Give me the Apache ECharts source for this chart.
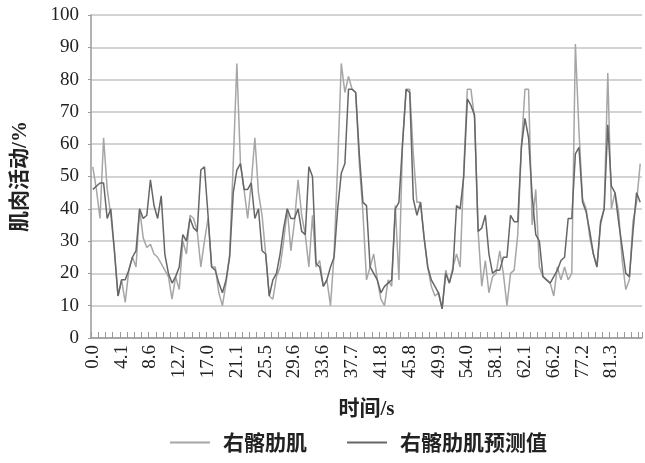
<!DOCTYPE html>
<html>
<head>
<meta charset="utf-8">
<script src="https://cdn.jsdelivr.net/npm/echarts@6/dist/echarts.min.js"></script>
<style>
  html, body { margin: 0; padding: 0; background: #fff; }
  #chart { width: 645px; height: 463px; }
</style>
</head>
<body>
<div id="chart"></div>
<script>
// tick labels (s), one every 8 samples
var timeLabels = ['0.0', '4.1', '8.6', '12.7', '17.0', '21.1', '25.5', '29.6', '33.6', '37.7',
  '41.8', '45.8', '49.9', '54.0', '58.1', '62.1', '66.2', '77.2', '81.3'];
var labelStep = 8;

// 右髂肋肌 (measured)
var measured = [
  53, 46, 37, 62, 46, 38, 27, 13, 18, 11,
  21, 25, 22, 40, 31, 28, 29, 26, 25, 23,
  21, 19, 12, 19, 15, 30, 26, 38, 37, 33,
  22, 30, 37, 22, 22, 14, 10, 17, 26, 54,
  85, 54, 46, 37, 48, 62, 45, 38, 26, 13,
  12, 19, 22, 30, 40, 27, 36, 49, 38, 32,
  22, 38, 22, 24, 16, 18, 10, 26, 54, 85,
  76, 81, 77, 76, 54, 39, 18, 22, 26, 18,
  12, 10, 18, 16, 41, 18, 60, 77, 77, 57,
  42, 42, 31, 22, 16, 13, 14, 9, 21, 17,
  22, 26, 22, 52, 77, 77, 68, 33, 16, 24,
  14, 19, 20, 27, 20, 10, 20, 21, 32, 59,
  77, 77, 35, 46, 22, 19, 18, 17, 13, 22,
  18, 22, 18, 20, 91, 64, 43, 40, 31, 26,
  22, 35, 40, 82, 40, 45, 39, 24, 15, 18,
  36, 42, 54
];

// 右髂肋肌预测值 (predicted)
var predicted = [
  46, 47, 48, 48, 37, 40, 27, 13, 18, 18,
  21, 25, 27, 40, 37, 38, 49, 41, 37, 44,
  26, 20, 17, 19, 22, 32, 30, 37, 34, 33,
  52, 53, 38, 22, 21, 17, 14, 18, 25, 45,
  52, 54, 46, 46, 48, 37, 40, 27, 26, 13,
  18, 20, 26, 34, 40, 37, 37, 40, 33, 32,
  53, 50, 23, 22, 16, 18, 22, 25, 40, 51,
  54, 77, 77, 76, 57, 42, 41, 22, 20, 18,
  14, 16, 17, 18, 40, 42, 60, 77, 76, 43,
  38, 42, 31, 22, 18, 16, 14, 9, 20, 17,
  21, 41, 40, 50, 74, 72, 69, 33, 34, 38,
  26, 20, 21, 21, 25, 25, 38, 36, 36, 59,
  68, 62, 44, 32, 30, 19, 18, 17, 19, 21,
  24, 25, 37, 37, 57, 59, 42, 39, 33, 26,
  22, 36, 40, 66, 47, 45, 36, 28, 20, 19,
  33, 45, 42
];

var categories = measured.map(function (v, i) {
  var k = i / labelStep;
  return (i % labelStep === 0 && k < timeLabels.length) ? timeLabels[k] : '';
});

var serif = "'Liberation Serif', 'Noto Sans CJK SC'";
var chart = echarts.init(document.getElementById('chart'));
var option = {
  animation: false,
  grid: {
    left: 91,
    right: 3,
    top: 15,
    bottom: 125,
    outerBoundsMode: 'none'
  },
  legend: {
    left: 165,
    top: 427,
    icon: 'rect',
    itemWidth: 40,
    itemHeight: 2,
    itemGap: 40,
    textStyle: {
      fontFamily: 'Noto Sans CJK SC',
      fontSize: 21,
      fontWeight: 'bold',
      color: '#222',
      padding: [0, 0, 0, 8]
    },
    data: ['右髂肋肌', '右髂肋肌预测值']
  },
  xAxis: {
    type: 'category',
    data: categories,
    boundaryGap: true,
    name: '时间/s',
    nameLocation: 'middle',
    nameGap: 61,
    nameMoveOverlap: false,
    nameTextStyle: { fontFamily: serif, fontSize: 21, fontWeight: 'bold', color: '#222' },
    axisLine: { lineStyle: { color: '#999', width: 1.5 } },
    axisTick: { show: true, inside: true, length: 6, interval: 1, lineStyle: { color: '#999' } },
    axisLabel: {
      interval: labelStep - 1,
      rotate: 90,
      margin: 7,
      fontFamily: serif,
      fontSize: 19,
      color: '#222'
    },
    splitLine: { show: false }
  },
  yAxis: {
    type: 'value',
    min: 0,
    max: 100,
    interval: 10,
    name: '肌肉活动/%',
    nameLocation: 'middle',
    nameGap: 60,
    nameRotate: 90,
    nameMoveOverlap: false,
    nameTextStyle: { fontFamily: serif, fontSize: 21, fontWeight: 'bold', color: '#222' },
    axisLine: { show: true, lineStyle: { color: '#999', width: 1.5 } },
    axisTick: { show: true, length: 3, lineStyle: { color: '#999' } },
    axisLabel: { margin: 12, fontFamily: serif, fontSize: 19, color: '#222' },
    splitLine: { lineStyle: { color: '#c4c4c4', width: 1.5 } }
  },
  series: [
    {
      name: '右髂肋肌',
      type: 'line',
      symbol: 'none',
      data: measured,
      lineStyle: { color: '#a6a6a6', width: 1.5 },
      itemStyle: { color: '#a6a6a6' }
    },
    {
      name: '右髂肋肌预测值',
      type: 'line',
      symbol: 'none',
      data: predicted,
      lineStyle: { color: '#666', width: 1.5 },
      itemStyle: { color: '#666' }
    }
  ]
};
chart.setOption(option);
</script>
</body>
</html>
